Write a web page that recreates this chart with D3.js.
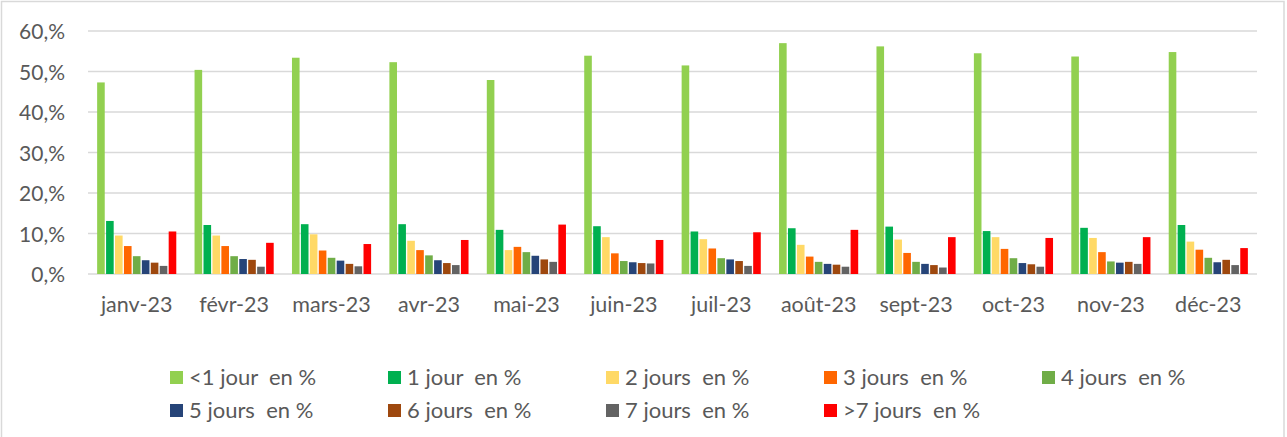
<!DOCTYPE html>
<html><head><meta charset="utf-8">
<script src="https://cdn.jsdelivr.net/npm/d3@7"></script>
<style>
html,body{margin:0;padding:0;background:#fff;}
svg{display:block;font-family:Lato,"Open Sans",sans-serif;}
text{white-space:pre;}
</style></head>
<body><svg id="c" width="1287" height="437"></svg>
<script>
const months = ["janv-23","févr-23","mars-23","avr-23","mai-23","juin-23","juil-23","août-23","sept-23","oct-23","nov-23","déc-23"];
const seriesNames = ["<1 jour  en %","1 jour  en %","2 jours  en %","3 jours  en %","4 jours  en %","5 jours  en %","6 jours  en %","7 jours  en %",">7 jours  en %"];
const seriesColors = ["#92D050","#00B050","#FFD966","#FF6600","#70AD47","#264478","#9E480E","#636363","#FF0000"];
const lt1   = [47.3,50.4,53.4,52.3,47.9,53.9,51.5,57.0,56.2,54.5,53.7,54.8];
const d1    = [13.1,12.1,12.3,12.3,10.9,11.8,10.5,11.3,11.7,10.6,11.4,12.1];
const d2    = [9.5,9.5,9.8,8.2,5.9,9.1,8.6,7.2,8.5,9.1,8.9,8.0];
const d3v   = [6.9,6.9,5.8,5.9,6.7,5.1,6.3,4.3,5.2,6.2,5.4,6.0];
const d4    = [4.4,4.4,4.0,4.6,5.4,3.2,3.9,3.0,3.0,3.9,3.1,4.0];
const d5    = [3.4,3.7,3.3,3.4,4.5,2.9,3.6,2.5,2.5,2.7,2.8,2.9];
const d6    = [2.8,3.5,2.5,2.7,3.6,2.7,3.2,2.3,2.2,2.4,3.0,3.5];
const d7    = [2.0,1.8,1.9,2.2,3.0,2.6,2.0,1.8,1.6,1.8,2.5,2.2];
const gt7   = [10.5,7.7,7.4,8.4,12.2,8.4,10.3,10.9,9.1,8.9,9.1,6.4];
const yTicks = [0,10,20,30,40,50,60];
const yTickLabels = ["0,%","10,%","20,%","30,%","40,%","50,%","60,%"];

const seriesValues = [lt1,d1,d2,d3v,d4,d5,d6,d7,gt7];
const svg = d3.select("#c");
const textColor = "#595959";

svg.append("rect").attr("x",1.5).attr("y",1.5).attr("width",1282.5).attr("height",445)
  .attr("fill","none").attr("stroke","#d9d9d9").attr("stroke-width",1.5);

const x0 = d3.scaleBand().domain(months).range([88,1257]).paddingInner(0.16).paddingOuter(0.08);
const x1 = d3.scaleBand().domain(d3.range(seriesNames.length)).range([0,x0.bandwidth()]).padding(0.15);
const y = d3.scaleLinear().domain([0,60]).range([274,31]);

// gridlines
svg.append("g").selectAll("line").data(yTicks).join("line")
  .attr("x1",88).attr("x2",1257).attr("y1",d=>y(d)).attr("y2",d=>y(d))
  .attr("stroke","#d9d9d9").attr("stroke-width",1.3);

// y labels
const yAxis = d3.axisLeft(y).tickValues(yTicks).tickFormat((d,i)=>yTickLabels[i]).tickSize(0).tickPadding(0);
const ya = svg.append("g").attr("transform","translate(65,0)").call(yAxis);
ya.select(".domain").remove();
ya.selectAll("text").attr("fill",textColor).style("font-size","21px").attr("dy","0.36em").style("font-family","Lato");

// bars
const groups = svg.append("g").selectAll("g").data(months).join("g")
  .attr("transform",d=>`translate(${x0(d)},0)`);
groups.selectAll("rect").data((m,mi)=>seriesValues.map((s,si)=>({si,v:s[mi]}))).join("rect")
  .attr("x",d=>x1(d.si)).attr("width",x1.bandwidth())
  .attr("y",d=>y(d.v)).attr("height",d=>y(0)-y(d.v))
  .attr("fill",d=>seriesColors[d.si]);

// x labels
const xAxis = d3.axisBottom(x0).tickSize(0).tickPadding(0);
const xa = svg.append("g").attr("transform","translate(0,312)").call(xAxis);
xa.select(".domain").remove();
xa.selectAll("text").attr("fill",textColor).style("font-size","21.5px").attr("dy","0").style("font-family","Lato");

// legend
const legCols = [170,388,606,824,1042];
const legRows = [371,404];
const leg = svg.append("g").selectAll("g").data(seriesNames).join("g")
  .attr("transform",(d,i)=>`translate(${legCols[i%5]},${legRows[Math.floor(i/5)]})`);
leg.append("rect").attr("width",13).attr("height",13).attr("fill",(d,i)=>seriesColors[i]);
leg.append("text").attr("x",19).attr("y",13.5).text(d=>d)
  .attr("fill",textColor).style("font-size","22px");
</script></body></html>
